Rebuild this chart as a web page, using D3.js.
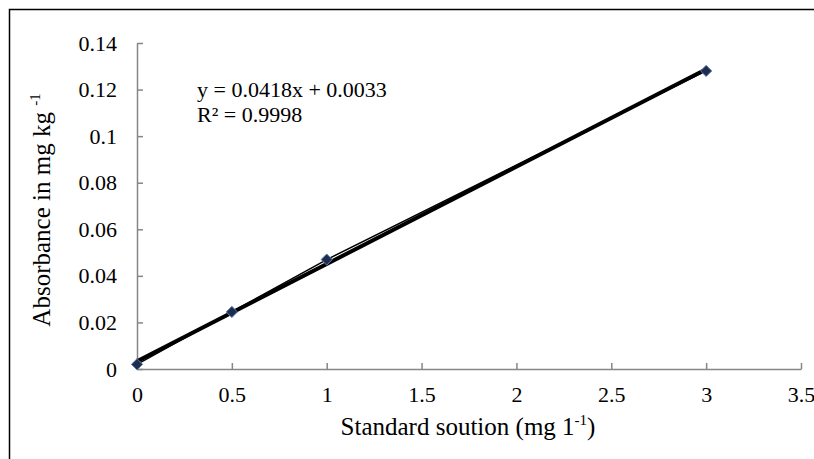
<!DOCTYPE html>
<html>
<head>
<meta charset="utf-8">
<script src="https://cdn.jsdelivr.net/npm/d3@7"></script>
<style>
  body { margin: 0; background: #fff; }
  text { font-family: "Liberation Serif", "Times New Roman", serif; fill: #000; }
</style>
</head>
<body>
<div id="chart"></div>
<script>
var svgWidth = 814;
var svgHeight = 459;

// Data
var concentration = [0, 0.5, 1, 3];
var absorbance = [0.002, 0.0245, 0.047, 0.128];
var xTicks = [0, 0.5, 1, 1.5, 2, 2.5, 3, 3.5];
var yTicks = [0, 0.02, 0.04, 0.06, 0.08, 0.1, 0.12, 0.14];
var slope = 0.0418;
var intercept = 0.0033;

var margin = { top: 43, right: 13, bottom: 90, left: 137 };
var width = svgWidth - margin.left - margin.right;
var height = svgHeight - margin.top - margin.bottom;

var svg = d3.select("#chart")
  .append("svg")
  .attr("width", svgWidth)
  .attr("height", svgHeight);

// outer frame (only top and left visible)
svg.append("path")
  .attr("d", "M9.5,470 L9.5,9.5 L830,9.5")
  .attr("fill", "none")
  .attr("stroke", "#000")
  .attr("stroke-width", 1.5);

var chartGroup = svg.append("g")
  .attr("transform", `translate(${margin.left}, ${margin.top})`);

var x = d3.scaleLinear().domain([0, 3.5]).range([0, width]);
var y = d3.scaleLinear().domain([0, 0.14]).range([height, 0]);

var bottomAxis = d3.axisBottom(x).tickValues(xTicks).tickSize(6).tickSizeOuter(0)
  .tickFormat(d => String(d));
var leftAxis = d3.axisLeft(y).tickValues(yTicks).tickSize(6).tickSizeOuter(0)
  .tickFormat(d => String(+d.toFixed(2)));

var xg = chartGroup.append("g")
  .attr("transform", `translate(0, ${height})`)
  .call(bottomAxis);
var yg = chartGroup.append("g").call(leftAxis);

[xg, yg].forEach(function(g) {
  g.select(".domain").attr("stroke", "#868686").attr("stroke-width", 1.5);
  g.selectAll(".tick line").attr("stroke", "#868686").attr("stroke-width", 1.5);
  g.selectAll(".tick text")
    .style("font-family", "Liberation Serif, serif")
    .style("font-size", "22px")
    .attr("fill", "#000");
});
xg.selectAll(".tick line").attr("y2", -6);
yg.selectAll(".tick line").attr("x2", 6).attr("x1", 0);
xg.selectAll(".tick text").attr("y", 17).attr("dy", "0.71em");
yg.selectAll(".tick text").attr("x", -20);

var pts = concentration.map((c, i) => ({ x: c, y: absorbance[i] }));

// trend line
chartGroup.append("line")
  .attr("x1", x(0)).attr("y1", y(intercept))
  .attr("x2", x(3)).attr("y2", y(slope * 3 + intercept))
  .attr("stroke", "#000")
  .attr("stroke-width", 4);

// data line
chartGroup.append("path")
  .datum(pts)
  .attr("fill", "none")
  .attr("stroke", "#000")
  .attr("stroke-width", 1.5)
  .attr("d", d3.line().x(d => x(d.x)).y(d => y(d.y)));

// markers
chartGroup.selectAll(".pt")
  .data(pts)
  .enter()
  .append("path")
  .attr("class", "pt")
  .attr("transform", d => `translate(${x(d.x)},${y(d.y)})`)
  .attr("d", d3.symbol().type(d3.symbolDiamond2).size(80))
  .attr("fill", "#1f2d4d")
  .attr("stroke", "#5b7fb5")
  .attr("stroke-width", 1);

// equation
chartGroup.append("text")
  .attr("x", 60).attr("y", 54)
  .style("font-size", "22px")
  .text("y = 0.0418x + 0.0033");
chartGroup.append("text")
  .attr("x", 60).attr("y", 79)
  .style("font-size", "22px")
  .text("R² = 0.9998");

// axis titles
var yt = svg.append("text")
  .attr("transform", `translate(50, ${margin.top + height / 2 + 4}) rotate(-90)`)
  .attr("text-anchor", "middle")
  .style("font-size", "25px");
yt.append("tspan").text("Absorbance in mg kg ");
yt.append("tspan").attr("dy", -10).style("font-size", "15px").text("-1");

var xt = svg.append("text")
  .attr("transform", `translate(468, 435)`)
  .attr("text-anchor", "middle")
  .style("font-size", "25px");
xt.append("tspan").text("Standard soution (mg 1");
xt.append("tspan").attr("dy", -10).style("font-size", "15px").text("-1");
xt.append("tspan").attr("dy", 10).text(")");
</script>
</body>
</html>
